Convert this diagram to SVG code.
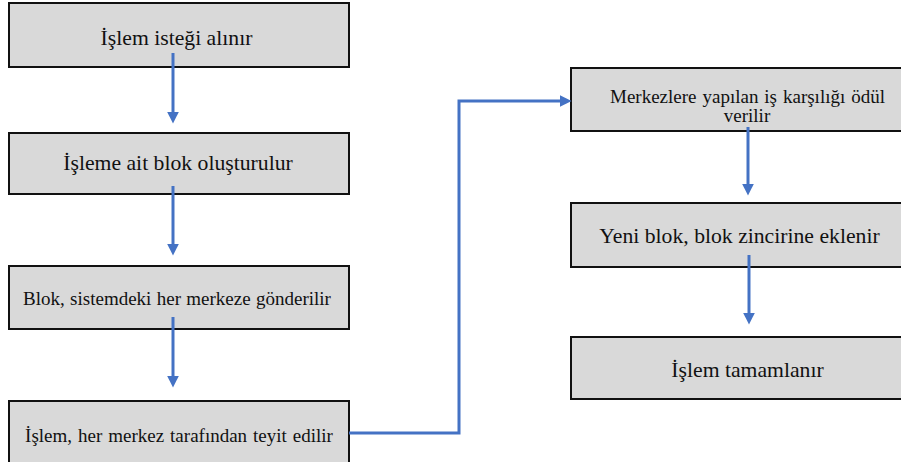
<svg xmlns="http://www.w3.org/2000/svg" width="901" height="462" viewBox="0 0 901 462">
<defs>
<style>
.box{fill:#d9d9d9;stroke:#111;stroke-width:2}
.c{fill:none;stroke:#4472c4;stroke-width:3}
.big{font-size:21.7px}
.sm{font-size:19px}
</style>
<marker id="ah" markerUnits="userSpaceOnUse" markerWidth="12" markerHeight="12" viewBox="0 0 10 10" refX="2" refY="5" orient="auto">
<path d="M0,0 L10,5 L0,10 z" fill="#4472c4"/>
</marker>
</defs>
<rect width="901" height="462" fill="#fff"/>
<g font-family="Liberation Serif, Times New Roman, DejaVu Serif, serif" fill="#111" text-anchor="middle">
<g id="n1"><rect class="box" x="9" y="3" width="340" height="64"/><text class="big" x="176.5" y="45">İşlem isteği alınır</text></g>
<g id="n2"><rect class="box" x="9" y="133" width="340" height="61"/><text class="big" x="178" y="170">İşleme ait blok oluşturulur</text></g>
<g id="n3"><rect class="box" x="9" y="266" width="340" height="63"/><text class="sm" x="177" y="305" word-spacing="0.6">Blok, sistemdeki her merkeze gönderilir</text></g>
<g id="n4"><rect class="box" x="9" y="401" width="340" height="70"/><text class="sm" x="179" y="442" word-spacing="1.2">İşlem, her merkez tarafından teyit edilir</text></g>
<g id="n5"><rect class="box" x="571" y="68" width="340" height="63"/><text class="sm" x="747.5" y="103" word-spacing="1.2">Merkezlere yapılan iş karşılığı ödül</text><text class="sm" x="747" y="122">verilir</text></g>
<g id="n6"><rect class="box" x="571" y="203" width="340" height="64"/><text class="big" x="739.5" y="243">Yeni blok, blok zincirine eklenir</text></g>
<g id="n7"><rect class="box" x="571" y="337" width="340" height="62"/><text class="big" x="747.5" y="377">İşlem tamamlanır</text></g>
</g>
<g id="connectors">
<line class="c" x1="173" y1="53" x2="173" y2="114" marker-end="url(#ah)"/>
<line class="c" x1="173" y1="186" x2="173" y2="246" marker-end="url(#ah)"/>
<line class="c" x1="173" y1="317" x2="173" y2="378" marker-end="url(#ah)"/>
<polyline class="c" points="349,433 459,433 459,101 562,101" marker-end="url(#ah)"/>
<line class="c" x1="748" y1="127" x2="748" y2="186" marker-end="url(#ah)"/>
<line class="c" x1="749" y1="255" x2="749" y2="315" marker-end="url(#ah)"/>
</g>
</svg>
